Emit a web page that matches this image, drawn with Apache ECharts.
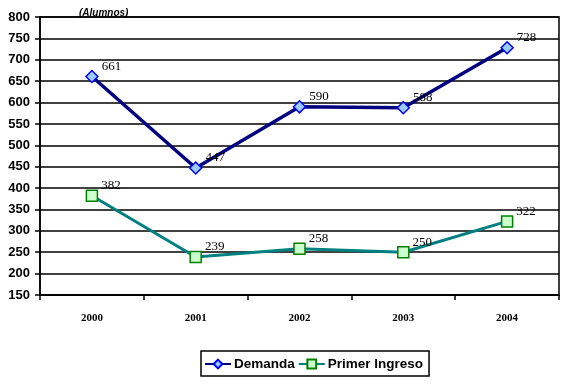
<!DOCTYPE html>
<html><head><meta charset="utf-8">
<script src="https://cdn.jsdelivr.net/npm/echarts@6/dist/echarts.min.js"></script>
<style>html,body{margin:0;padding:0;background:#fff}#c{width:571px;height:387px}</style>
</head><body><div id="c"></div>
<script>
const years = ['2000','2001','2002','2003','2004'];
const demanda = [661, 447, 590, 588, 728];
const primerIngreso = [382, 239, 258, 250, 322];
const unitLabel = '(Alumnos)';

const sans = 'Liberation Sans, Arial, sans-serif';
const serif = 'Liberation Serif, Times New Roman, serif';
const chart = echarts.init(document.getElementById('c'));
const lbl = {show:true, position:'right', distance:3, offset:[0,-10], color:'#000', fontFamily:serif, fontSize:13};
chart.setOption({
  animation:false,
  backgroundColor:'#fff',
  title:{text:unitLabel, left:74, top:3, textStyle:{fontFamily:sans, fontSize:10, fontStyle:'italic', fontWeight:'bold', color:'#000'}},
  grid:{left:40, right:12, top:17, bottom:92, show:true, borderColor:'#000', borderWidth:1.5},
  xAxis:{type:'category', data:years, boundaryGap:true,
    axisLine:{lineStyle:{color:'#000', width:1.5}},
    axisTick:{show:true, length:5, lineStyle:{color:'#000', width:1.5}},
    axisLabel:{margin:18, color:'#000', fontFamily:serif, fontWeight:'bold', fontSize:11}},
  yAxis:{type:'value', min:150, max:800, interval:50,
    axisLine:{show:true, lineStyle:{color:'#000', width:1.5}},
    axisTick:{show:true, length:5, lineStyle:{color:'#000', width:1.5}},
    splitLine:{lineStyle:{color:'#000', width:1.5}},
    axisLabel:{margin:10, color:'#000', fontFamily:sans, fontWeight:'bold', fontSize:13}},
  legend:{left:201, top:351, orient:'horizontal', borderColor:'#000', borderWidth:1.5, padding:[6,6,5,3], itemGap:3, itemWidth:26, itemHeight:11,
    textStyle:{fontFamily:sans, fontWeight:'bold', fontSize:13.5, color:'#000', padding:[0,0,0,-2]},
    data:['Demanda','Primer Ingreso']},
  series:[
    {name:'Demanda', type:'line', data:demanda, symbol:'diamond', symbolSize:12,
     lineStyle:{color:'#000080', width:3.5}, itemStyle:{color:'#99ccff', borderColor:'#0000ff', borderWidth:1.5},
     label:lbl},
    {name:'Primer Ingreso', type:'line', data:primerIngreso, symbol:'rect', symbolSize:11,
     lineStyle:{color:'#008080', width:3}, itemStyle:{color:'#ccffcc', borderColor:'#008000', borderWidth:1.5},
     label:lbl}
  ]
});
</script></body></html>
